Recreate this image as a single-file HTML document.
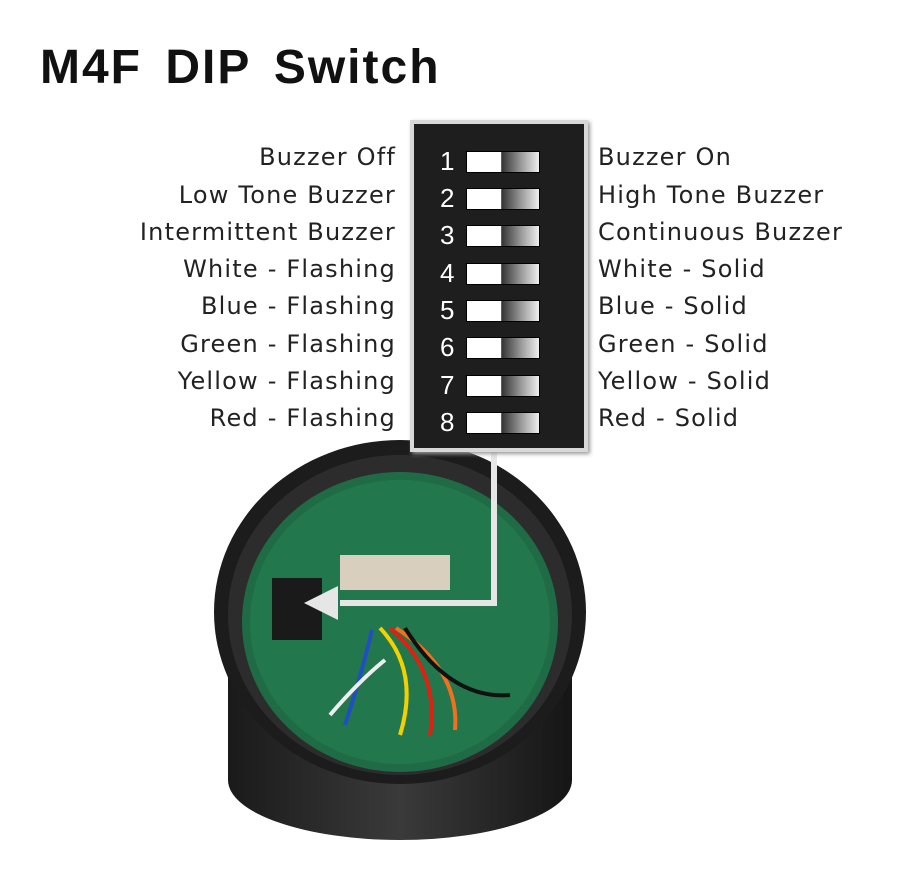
<!DOCTYPE html>
<html><head><meta charset="utf-8"><style>
body{margin:0;width:900px;height:884px;background:#fff;position:relative;overflow:hidden;font-family:"Liberation Sans",sans-serif}
.t{position:absolute;left:40px;top:40px;font-size:48px;font-weight:bold;color:#111;letter-spacing:2px;word-spacing:8px}
.l,.r{position:absolute;font-family:"DejaVu Sans",sans-serif;font-size:24px;color:#222;line-height:30px;letter-spacing:1.2px}
.l{right:504px;text-align:right}
.r{left:598px}
.box{position:absolute;left:410px;top:120px;width:170px;height:324px;background:#1e1e1e;border:4px solid #d8d8d8;box-shadow:2px 2px 4px #999}
.n{position:absolute;left:26px;color:#fff;font-size:26px;line-height:30px}
.s{position:absolute;left:52px;width:72px;height:20px;border:1px solid #000;background:linear-gradient(90deg,#fff 0,#fff 47%,#333 48%,#999 75%,#eee 100%)}
</style></head><body>
<div class="t">M4F DIP Switch</div>
<svg width="900" height="884" style="position:absolute;left:0;top:0">
<defs><linearGradient id="cy" x1="0" x2="1"><stop offset="0" stop-color="#1a1a1a"/><stop offset="0.5" stop-color="#3a3a3a"/><stop offset="1" stop-color="#151515"/></linearGradient></defs>
<path d="M228 640 L228 780 A172 60 0 0 0 572 780 L572 640 Z" fill="url(#cy)"/>
<ellipse cx="400" cy="612" rx="186" ry="172" fill="#1c1c1c"/>
<ellipse cx="400" cy="615" rx="172" ry="160" fill="#2c2c2c"/>
<ellipse cx="400" cy="622" rx="158" ry="150" fill="#1f6b45"/>
<ellipse cx="400" cy="622" rx="150" ry="142" fill="#23774c"/>
<rect x="340" y="555" width="110" height="35" fill="#d8cfbf"/>
<rect x="272" y="578" width="50" height="62" fill="#1a1a1a"/>
<path d="M372 630 Q360 680 345 725" stroke="#2050c0" stroke-width="4" fill="none"/>
<path d="M380 628 Q420 670 400 735" stroke="#f5d000" stroke-width="4" fill="none"/>
<path d="M390 628 Q440 670 430 735" stroke="#e02010" stroke-width="4" fill="none"/>
<path d="M396 628 Q460 670 455 730" stroke="#f07020" stroke-width="4" fill="none"/>
<path d="M405 628 Q450 700 510 695" stroke="#111" stroke-width="4" fill="none"/>
<path d="M330 715 Q360 680 385 660" stroke="#eee" stroke-width="4" fill="none"/>
<polyline points="494,448 494,603 340,603" stroke="#e6e6e6" stroke-width="6" fill="none"/>
<polygon points="304,603 338,586 338,620" fill="#e6e6e6"/>
</svg>
<div class="box">
<div class="n" style="top:22px">1</div><div class="s" style="top:27px"></div>
<div class="n" style="top:59px">2</div><div class="s" style="top:64px"></div>
<div class="n" style="top:96px">3</div><div class="s" style="top:101px"></div>
<div class="n" style="top:134px">4</div><div class="s" style="top:139px"></div>
<div class="n" style="top:171px">5</div><div class="s" style="top:176px"></div>
<div class="n" style="top:208px">6</div><div class="s" style="top:213px"></div>
<div class="n" style="top:246px">7</div><div class="s" style="top:251px"></div>
<div class="n" style="top:283px">8</div><div class="s" style="top:288px"></div>
</div>
<div class="l" style="top:142px">Buzzer Off</div><div class="r" style="top:142px">Buzzer On</div>
<div class="l" style="top:180px">Low Tone Buzzer</div><div class="r" style="top:180px">High Tone Buzzer</div>
<div class="l" style="top:217px">Intermittent Buzzer</div><div class="r" style="top:217px">Continuous Buzzer</div>
<div class="l" style="top:254px">White - Flashing</div><div class="r" style="top:254px">White - Solid</div>
<div class="l" style="top:291px">Blue - Flashing</div><div class="r" style="top:291px">Blue - Solid</div>
<div class="l" style="top:329px">Green - Flashing</div><div class="r" style="top:329px">Green - Solid</div>
<div class="l" style="top:366px">Yellow - Flashing</div><div class="r" style="top:366px">Yellow - Solid</div>
<div class="l" style="top:403px">Red - Flashing</div><div class="r" style="top:403px">Red - Solid</div>
</body></html>
